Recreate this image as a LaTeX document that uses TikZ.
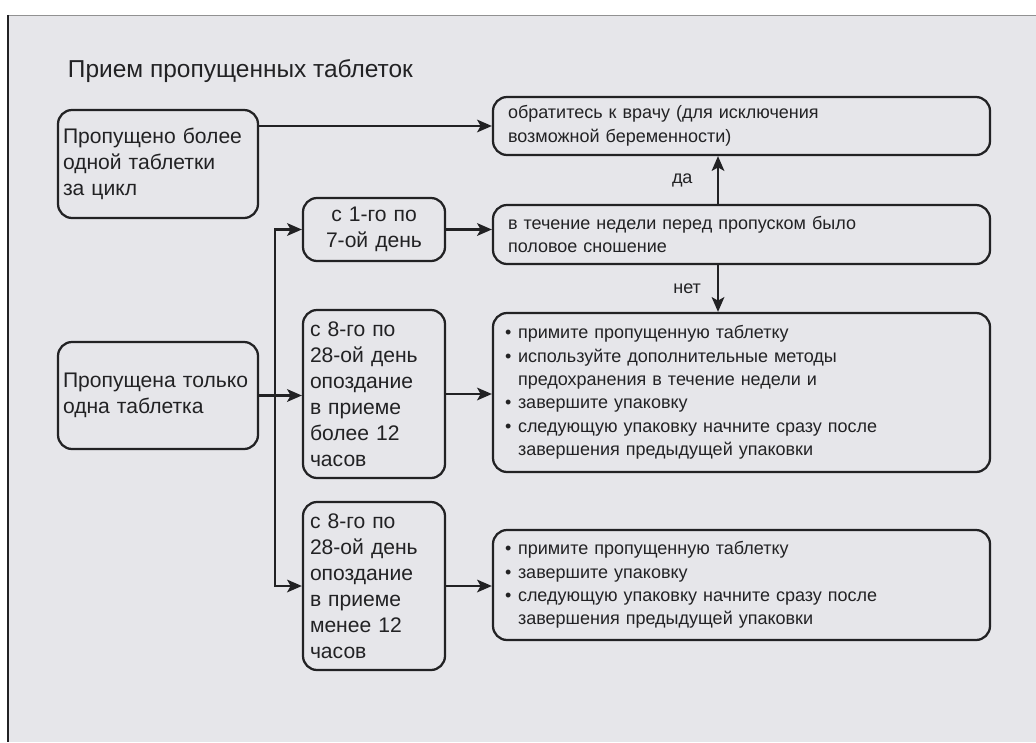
\documentclass[tikz,border=0pt]{standalone}
\usepackage{fontspec}
\setmainfont{Liberation Sans}
\usetikzlibrary{arrows.meta}

\definecolor{paper}{RGB}{230,230,234}
\definecolor{ink}{RGB}{34,34,36}
\newlength\unitpx
\setlength\unitpx{0.025cm}
\newcommand{\titlefont}{\fontsize{17.4}{21}\selectfont}
\newcommand{\stagefont}{\fontsize{15}{18.5}\selectfont}
\newcommand{\notefont}{\fontsize{12.8}{16.7}\selectfont}
\newcommand{\dotitem}{\makebox[13\unitpx][l]{\textbullet}}
\newcommand{\dotcont}{\hspace*{13\unitpx}}

\begin{document}
\begin{tikzpicture}[x=\unitpx,y=-\unitpx,
    card/.style={draw=ink, line width=1.6pt, rounded corners=10pt, text=ink, inner ysep=0pt},
    stagebox/.style={card, font=\stagefont, minimum width=200\unitpx, text width=190\unitpx, inner xsep=5\unitpx, align=left},
    daybox/.style={card, font=\stagefont, minimum width=142\unitpx, text width=128\unitpx, inner xsep=7\unitpx, align=left},
    rulebox/.style={card, font=\notefont, minimum width=497\unitpx, text width=467\unitpx, inner xsep=15\unitpx, align=left},
    listbox/.style={rulebox, text width=473\unitpx, inner xsep=12\unitpx},
    answer/.style={font=\notefont, text=ink},
    linkarrow/.style={draw=ink, line width=1.6pt, -{Stealth[length=10.5pt,width=9pt,inset=2.5pt]}}]
  \useasboundingbox (0,0) rectangle (1036,742);
  % Background
  \fill[paper] (8,15) rectangle (1036,742);
  \draw[ink!50, line width=0.4pt] (8,15) -- (1036,15);
  \draw[ink, line width=1.5pt] (8,15) -- (8,742);

  % Coordinates
  \coordinate (T) at (63,78);
  \coordinate (M) at (158,164);
  \coordinate (O) at (158,395.5);
  \coordinate (W) at (374,229.5);
  \coordinate (L) at (374,394);
  \coordinate (S) at (374,586);
  \coordinate (D) at (741.5,126);
  \coordinate (C) at (741.5,234.5);
  \coordinate (P) at (741.5,392.5);
  \coordinate (R) at (741.5,585);
  \coordinate (trunk) at (275,0);
  \coordinate (answer) at (718,0);

  % Labels
  \node[anchor=base west, font=\titlefont, text=ink] (title) at (T) {Прием пропущенных таблеток};
  \node[stagebox, minimum height=108\unitpx] (more) at (M) {Пропущено более\\одной таблетки\\за цикл};
  \node[stagebox, minimum height=107\unitpx] (one) at (O) {Пропущена только\\одна таблетка};
  \node[daybox, align=center, minimum height=63\unitpx] (week1) at (W) {с 1-го по\\7-ой день};
  \node[daybox, minimum height=168\unitpx] (late) at (L) {с 8-го по\\28-ой день\\опоздание\\в приеме\\более 12\\часов};
  \node[daybox, minimum height=168\unitpx] (early) at (S) {с 8-го по\\28-ой день\\опоздание\\в приеме\\менее 12\\часов};
  \node[rulebox, minimum height=58\unitpx] (doctor) at (D) {обратитесь к врачу (для исключения\\возможной беременности)};
  \node[rulebox, minimum height=59\unitpx] (contact) at (C) {в течение недели перед пропуском было\\половое сношение};
  \node[listbox, minimum height=159\unitpx] (steps) at (P) {\dotitem примите пропущенную таблетку\\
    \dotitem используйте дополнительные методы\\
    \dotcont предохранения в течение недели и\\
    \dotitem завершите упаковку\\
    \dotitem следующую упаковку начните сразу после\\
    \dotcont завершения предыдущей упаковки};
  \node[listbox, minimum height=110\unitpx] (short) at (R) {\dotitem примите пропущенную таблетку\\
    \dotitem завершите упаковку\\
    \dotitem следующую упаковку начните сразу после\\
    \dotcont завершения предыдущей упаковки};

  % Arrows
  \draw[linkarrow] (more.east |- doctor.west) -- (doctor.west);
  \draw[linkarrow] (one.east) -- (one.east -| late.west);
  \draw[linkarrow] (trunk |- one.east) |- (week1.west);
  \draw[linkarrow] (trunk |- one.east) |- (early.west);
  \draw[linkarrow] (week1.east) -- (week1.east -| contact.west);
  \draw[linkarrow] (late.east) -- (late.east -| steps.west);
  \draw[linkarrow] (early.east) -- (early.east -| short.west);
  \draw[linkarrow] (answer |- contact.north) -- node[answer, left=14pt] (yes) {да} (answer |- doctor.south);
  \draw[linkarrow] (answer |- contact.south) -- node[answer, left=8pt] (no) {нет} (answer |- steps.north);
\end{tikzpicture}
\end{document}
